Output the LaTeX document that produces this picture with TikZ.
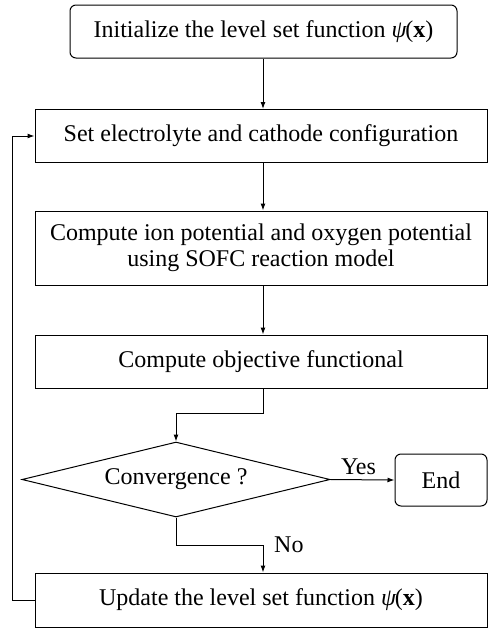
\documentclass[tikz,border=0pt]{standalone}
\usepackage{fontspec}
\setmainfont{Liberation Serif}
\usetikzlibrary{shapes.geometric,arrows.meta}
\tikzset{
  box/.style={draw, line width=1pt, minimum width=452pt, minimum height=53pt, inner sep=2pt, align=center, font=\fontsize{24}{27}\selectfont},
  rbox/.style={box, rounded corners=6pt},
  dec/.style={draw, line width=1pt, diamond, aspect=4, inner sep=0pt, minimum width=308pt, minimum height=75pt, font=\fontsize{24}{27}\selectfont},
  conn/.style={line width=1pt, -{Latex[length=7pt,width=5pt]}},
  lbl/.style={font=\fontsize{24}{27}\selectfont, inner sep=0pt}
}
\newcommand{\psix}{{\itshape ψ}\kern-1pt(\textbf{x})}
\begin{document}
\begin{tikzpicture}[x=1pt,y=-1pt]
\useasboundingbox (0,0) rectangle (488,629);
\node[rbox, minimum width=387pt] (init) at (263.5,31.5) {Initialize the level set function \psix};
\node[box] (set) at (261,136) {Set electrolyte and cathode configuration};
\node[box, minimum height=74pt] (ion) at (261,248) {Compute ion potential and oxygen potential\\[-1pt]using SOFC reaction model};
\node[box] (obj) at (261,361.5) {Compute objective functional};
\node[dec] (conv) at (176,479.5) {Convergence ?};
\node[rbox, minimum width=92pt, minimum height=52pt] (end) at (441,480) {End};
\node[box, minimum height=54pt] (upd) at (261,600) {Update the level set function \psix};
\coordinate (c1) at (263,0);
\coordinate (bend1) at (263,413);
\coordinate (bend2) at (263,545);
\coordinate (loop) at (12,600);
\draw[conn] (init.south -| c1) -- (set.north -| c1);
\draw[conn] (set.south -| c1) -- (ion.north -| c1);
\draw[conn] (ion.south -| c1) -- (obj.north -| c1);
\draw[conn] (obj.south -| c1) -- (bend1) -| (conv.north);
\draw[conn] (conv.south) |- (bend2) -- (upd.north -| c1);
\draw[conn] (conv.east) -- node[lbl, above=5pt, xshift=-4pt] (yes) {Yes} (end.west);
\node[lbl, anchor=west] (no) at (274,545) {No};
\draw[conn] (upd.west) -- (upd.west -| loop) |- (set.west);
\end{tikzpicture}
\end{document}
